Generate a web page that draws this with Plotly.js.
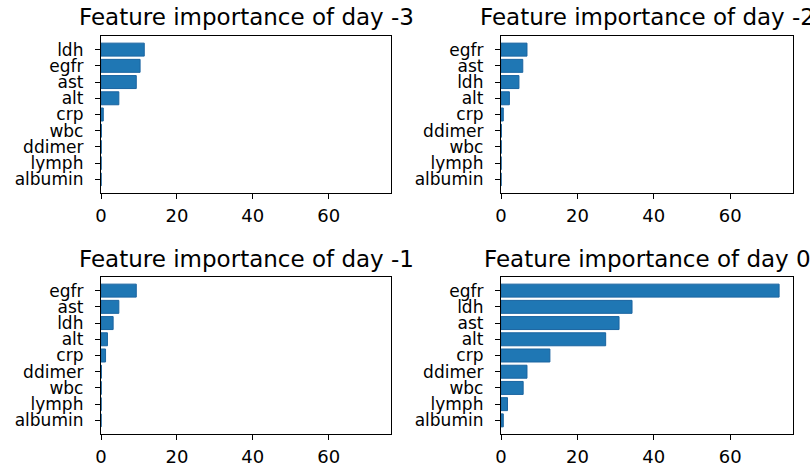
<!DOCTYPE html>
<html>
<head>
<meta charset="utf-8">
<script src="https://cdn.plot.ly/plotly-3.0.1.min.js"></script>
<style>html,body{margin:0;padding:0;background:#fff;}#chart{width:810px;height:468px;}</style>
</head>
<body>
<div id="chart"></div>
<script>
// Day -3
const featuresDayM3 = ["ldh", "egfr", "ast", "alt", "crp", "wbc", "ddimer", "lymph", "albumin"];
const valuesDayM3   = [11.4, 10.3, 9.3, 4.7, 0.6, 0.1, 0.05, 0.03, 0.02];
// Day -2
const featuresDayM2 = ["egfr", "ast", "ldh", "alt", "crp", "ddimer", "wbc", "lymph", "albumin"];
const valuesDayM2   = [6.8, 5.7, 4.7, 2.2, 0.6, 0.1, 0.05, 0.03, 0.02];
// Day -1
const featuresDayM1 = ["egfr", "ast", "ldh", "alt", "crp", "ddimer", "wbc", "lymph", "albumin"];
const valuesDayM1   = [9.3, 4.7, 3.2, 1.7, 1.2, 0.1, 0.05, 0.03, 0.02];
// Day 0
const featuresDay0  = ["egfr", "ldh", "ast", "alt", "crp", "ddimer", "wbc", "lymph", "albumin"];
const valuesDay0    = [72.8, 34.3, 30.9, 27.4, 12.8, 6.8, 5.8, 1.7, 0.6];

const titles = ["Feature importance of day -3", "Feature importance of day -2",
                "Feature importance of day -1", "Feature importance of day 0"];
const xTicks = [0, 20, 40, 60];

const panels = [
  {f: featuresDayM3, v: valuesDayM3},
  {f: featuresDayM2, v: valuesDayM2},
  {f: featuresDayM1, v: valuesDayM1},
  {f: featuresDay0,  v: valuesDay0}
];

const W = 810, H = 468;
const colDom = [[101/W, 391/W], [501/W, 793/W]];
const rowDom = [[1-193/H, 1-36/H], [1-434/H, 1-277/H]];
const xMax = Math.max(...panels.map(p => Math.max(...p.v))) * 1.05;
const FONT = "DejaVu Sans";

const data = [];
const layout = {
  width: W, height: H,
  margin: {l: 0, r: 0, t: 0, b: 0},
  paper_bgcolor: "#ffffff",
  plot_bgcolor: "#ffffff",
  showlegend: false,
  font: {family: FONT, color: "#000000"},
  annotations: []
};

panels.forEach((p, i) => {
  const n = i + 1;
  const xa = "x" + (n === 1 ? "" : n), ya = "y" + (n === 1 ? "" : n);
  data.push({
    type: "bar", orientation: "h",
    x: p.v, y: p.f,
    xaxis: xa, yaxis: ya,
    width: 0.8,
    marker: {color: "#1f77b4", line: {color: "#1a64a0", width: 1}},
    hoverinfo: "x+y"
  });
  const col = i % 2, row = Math.floor(i / 2);
  const axCommon = {
    showline: true, linecolor: "#000000", linewidth: 1.3, mirror: true,
    ticks: "outside", ticklen: 5, tickwidth: 1.2, tickcolor: "#000000",
    showgrid: false, zeroline: false, fixedrange: true
  };
  layout["xaxis" + (n === 1 ? "" : n)] = Object.assign({}, axCommon, {
    domain: colDom[col], anchor: ya,
    range: [0, xMax],
    tickmode: "array", tickvals: xTicks, ticktext: xTicks.map(String),
    tickfont: {family: FONT, size: 18, color: "#000000"},
    ticklabelstandoff: 1
  });
  layout["yaxis" + (n === 1 ? "" : n)] = Object.assign({}, axCommon, {
    domain: rowDom[row], anchor: xa,
    type: "category",
    categoryorder: "array", categoryarray: p.f,
    tickmode: "array", tickvals: p.f, ticktext: p.f,
    range: [p.f.length - 1 + 0.84, -0.84],
    tickfont: {family: FONT, size: 17, color: "#000000"},
    ticklabelstandoff: 8
  });
  layout.annotations.push({
    text: titles[i], showarrow: false,
    xref: "paper", yref: "paper",
    x: (colDom[col][0] + colDom[col][1]) / 2,
    y: row === 0 ? 1 - 17/H : 1 - 259/H,
    xanchor: "center", yanchor: "middle",
    font: {family: FONT, size: 23, color: "#000000"}
  });
});

Plotly.newPlot("chart", data, layout, {displayModeBar: false, staticPlot: false});
</script>
</body>
</html>
